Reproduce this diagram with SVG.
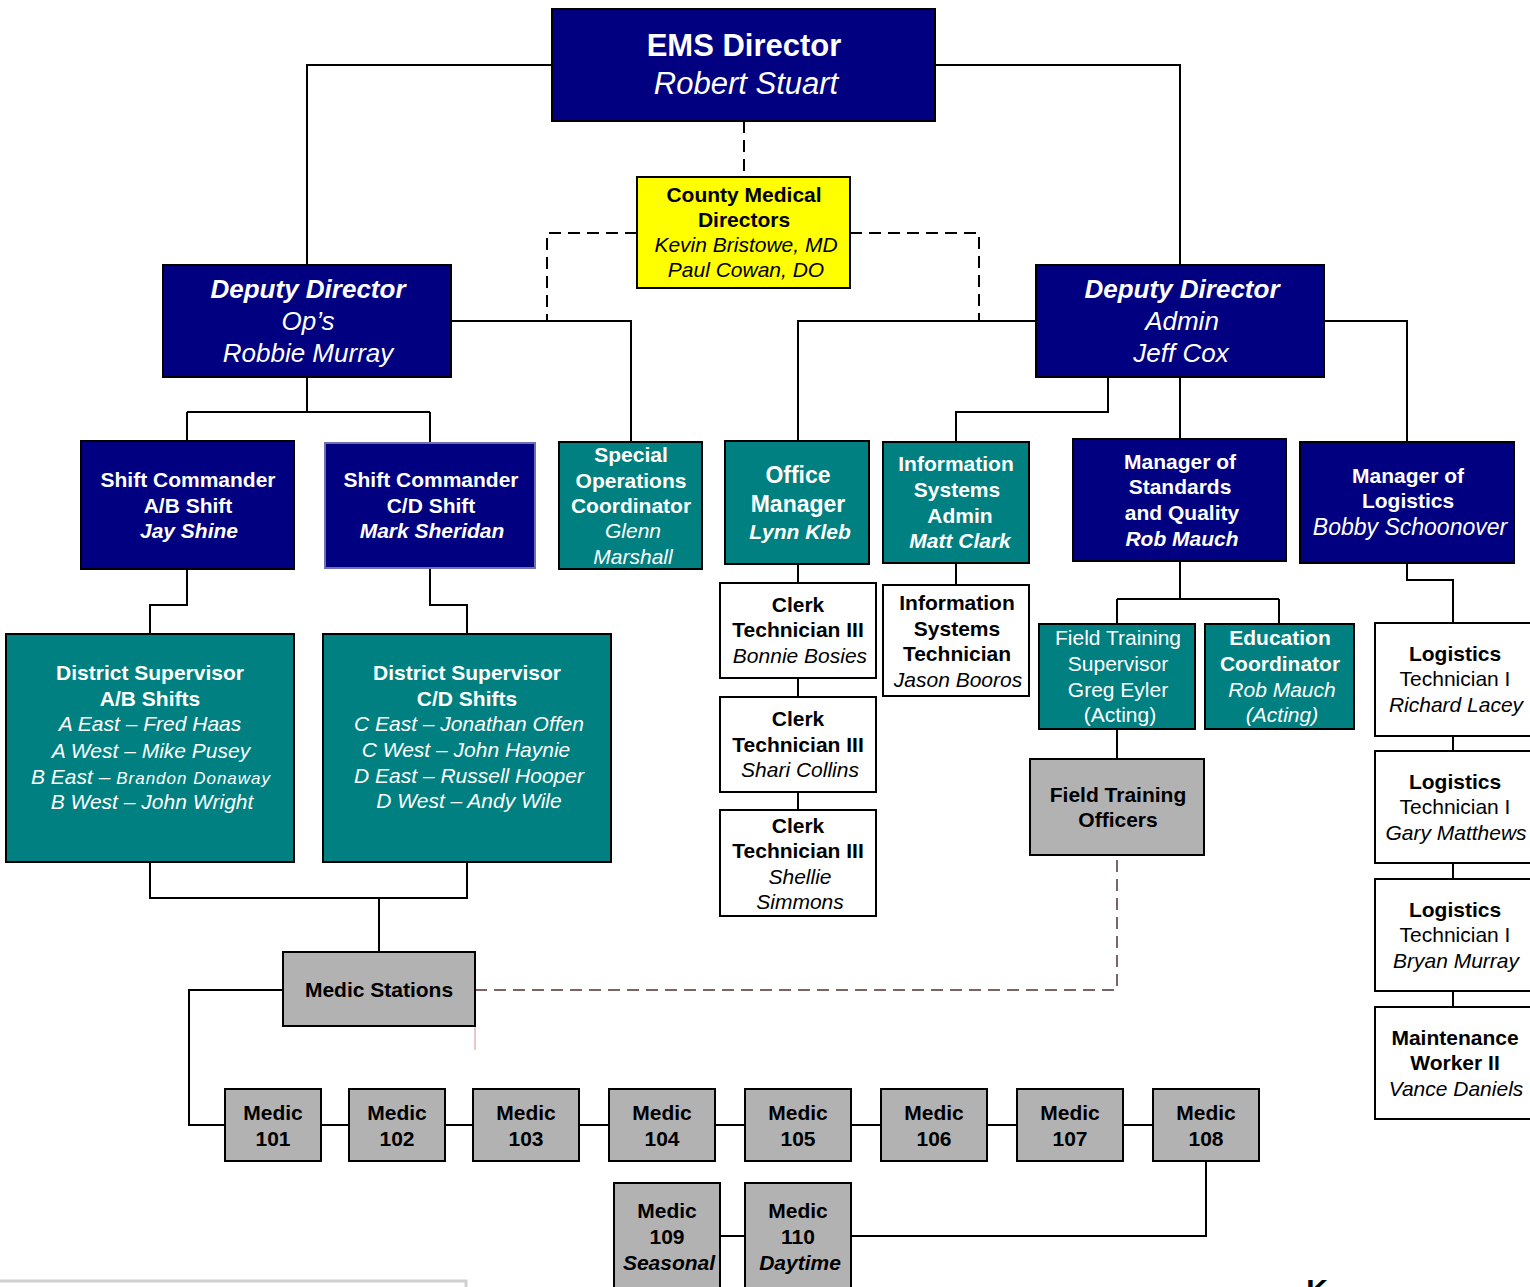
<svg xmlns="http://www.w3.org/2000/svg" width="1530" height="1287" viewBox="0 0 1530 1287">
<style>
.bx{stroke:#000;stroke-width:2}
.navy{fill:#000080}.teal{fill:#008080}.gray{fill:#b2b2b2}.wh{fill:#fff}.yel{fill:#ffff00}
text{font-family:"Liberation Sans",Arial,sans-serif;text-anchor:middle;font-size:21px}
.w{fill:#fff}.k{fill:#000}.b{font-weight:bold}.i{font-style:italic}
.ln{fill:none;stroke:#000;stroke-width:2}
.dash{fill:none;stroke:#000;stroke-width:2;stroke-dasharray:12 7}
.dash2{fill:none;stroke:#7a6464;stroke-width:2;stroke-dasharray:12 7}
</style>
<rect width="1530" height="1287" fill="#fff"/>
<g id="connectors">
<path class="ln" d="M552 65H307V265M935 65H1180V265"/>
<path class="dash" d="M744 121V177M637 233H547V321M850 233H979V321"/>
<path class="ln" d="M451 321H631V442M307 377V412M187 412H430M187 412V441M430 412V443"/>
<path class="ln" d="M187 569V605H150V634M430 568V605H467V634"/>
<path class="ln" d="M150 862V898H467V862M379 898V952"/>
<path class="ln" d="M283 990H189V1125H225"/>
<path class="ln" d="M321 1125H349M445 1125H473M579 1125H609M715 1125H745M851 1125H881M987 1125H1017M1123 1125H1153"/>
<path class="ln" d="M1206 1161V1236H851M720 1236H745"/>
<path class="dash2" d="M475 990H1117V855"/>
<path d="M475 1026V1050" stroke="#e8c8c8" stroke-width="2"/>
<path class="ln" d="M1036 321H798V441M1324 321H1407V442M1108 377V412H956V442M1180 377V439"/>
<path class="ln" d="M798 564V583M798 678V697M798 792V810M956 563V585"/>
<path class="ln" d="M1180 561V599M1117 599H1279M1117 599V624M1279 599V624M1117 729V759"/>
<path class="ln" d="M1407 563V580H1453V623M1453 736V751M1453 863V879M1453 991V1007"/>
</g>
<g id="ems-director"><rect class="bx navy" x="552" y="9" width="383" height="112"/>
<text class="w b" x="744" y="56" style="font-size:31px">EMS Director</text>
<text class="w i" x="746" y="94" style="font-size:31px">Robert Stuart</text></g>
<g id="county-medical"><rect class="bx yel" x="637" y="177" width="213" height="111"/>
<text class="k b" x="744" y="202">County Medical</text><text class="k b" x="744" y="227">Directors</text>
<text class="k i" x="746" y="252">Kevin Bristowe, MD</text><text class="k i" x="746" y="277">Paul Cowan, DO</text></g>
<g id="deputy-ops"><rect class="bx navy" x="163" y="265" width="288" height="112"/>
<text class="w b i" x="308" y="298" style="font-size:26px">Deputy Director</text>
<text class="w i" x="308" y="330" style="font-size:26px">Op’s</text>
<text class="w i" x="308" y="362" style="font-size:26px">Robbie Murray</text></g>
<g id="deputy-admin"><rect class="bx navy" x="1036" y="265" width="288" height="112"/>
<text class="w b i" x="1182" y="298" style="font-size:26px">Deputy Director</text>
<text class="w i" x="1182" y="330" style="font-size:26px">Admin</text>
<text class="w i" x="1181" y="362" style="font-size:26px">Jeff Cox</text></g>
<g id="shift-ab"><rect class="bx navy" x="81" y="441" width="213" height="128"/>
<text class="w b" x="188" y="487">Shift Commander</text><text class="w b" x="188" y="513">A/B Shift</text>
<text class="w b i" x="189" y="538">Jay Shine</text></g>
<g id="shift-cd"><rect class="navy" x="325" y="443" width="210" height="125" stroke="#7070b0" stroke-width="2"/>
<text class="w b" x="431" y="487">Shift Commander</text><text class="w b" x="431" y="513">C/D Shift</text>
<text class="w b i" x="432" y="538">Mark Sheridan</text></g>
<g id="special-ops"><rect class="bx teal" x="559" y="442" width="143" height="127"/>
<text class="w b" x="631" y="462">Special</text><text class="w b" x="631" y="488">Operations</text>
<text class="w b" x="631" y="513">Coordinator</text><text class="w i" x="633" y="538">Glenn</text>
<text class="w i" x="633" y="564">Marshall</text></g>
<g id="district-ab"><rect class="bx teal" x="6" y="634" width="288" height="228"/>
<text class="w b" x="150" y="680">District Supervisor</text><text class="w b" x="150" y="706">A/B Shifts</text>
<text class="w i" x="150" y="731">A East – Fred Haas</text><text class="w i" x="151" y="758">A West – Mike Pusey</text>
<text class="w i" x="151" y="784">B East – <tspan style="font-size:17px;letter-spacing:1px">Brandon Donaway</tspan></text>
<text class="w i" x="152" y="809">B West – John Wright</text></g>
<g id="district-cd"><rect class="bx teal" x="323" y="634" width="288" height="228"/>
<text class="w b" x="467" y="680">District Supervisor</text><text class="w b" x="467" y="706">C/D Shifts</text>
<text class="w i" x="469" y="731">C East – Jonathan Offen</text><text class="w i" x="466" y="757">C West – John Haynie</text>
<text class="w i" x="469" y="783">D East – Russell Hooper</text><text class="w i" x="469" y="808">D West – Andy Wile</text></g>
<g id="medic-stations"><rect class="bx gray" x="283" y="952" width="192" height="74"/>
<text class="k b" x="379" y="997">Medic Stations</text></g>
<g id="medic-101"><rect class="bx gray" x="225" y="1089" width="96" height="72"/><text class="k b" x="273" y="1120">Medic</text><text class="k b" x="273" y="1146">101</text></g>
<g id="medic-102"><rect class="bx gray" x="349" y="1089" width="96" height="72"/><text class="k b" x="397" y="1120">Medic</text><text class="k b" x="397" y="1146">102</text></g>
<g id="medic-103"><rect class="bx gray" x="473" y="1089" width="106" height="72"/><text class="k b" x="526" y="1120">Medic</text><text class="k b" x="526" y="1146">103</text></g>
<g id="medic-104"><rect class="bx gray" x="609" y="1089" width="106" height="72"/><text class="k b" x="662" y="1120">Medic</text><text class="k b" x="662" y="1146">104</text></g>
<g id="medic-105"><rect class="bx gray" x="745" y="1089" width="106" height="72"/><text class="k b" x="798" y="1120">Medic</text><text class="k b" x="798" y="1146">105</text></g>
<g id="medic-106"><rect class="bx gray" x="881" y="1089" width="106" height="72"/><text class="k b" x="934" y="1120">Medic</text><text class="k b" x="934" y="1146">106</text></g>
<g id="medic-107"><rect class="bx gray" x="1017" y="1089" width="106" height="72"/><text class="k b" x="1070" y="1120">Medic</text><text class="k b" x="1070" y="1146">107</text></g>
<g id="medic-108"><rect class="bx gray" x="1153" y="1089" width="106" height="72"/><text class="k b" x="1206" y="1120">Medic</text><text class="k b" x="1206" y="1146">108</text></g>
<g id="medic-109"><rect class="bx gray" x="614" y="1183" width="106" height="120"/><text class="k b" x="667" y="1218">Medic</text><text class="k b" x="667" y="1244">109</text><text class="k b i" x="669" y="1270">Seasonal</text></g>
<g id="medic-110"><rect class="bx gray" x="745" y="1183" width="106" height="120"/><text class="k b" x="798" y="1218">Medic</text><text class="k b" x="798" y="1244">110</text><text class="k b i" x="800" y="1270">Daytime</text></g>
<g id="office-manager"><rect class="bx teal" x="725" y="441" width="144" height="123"/>
<text class="w b" x="798" y="483" style="font-size:23px">Office</text><text class="w b" x="798" y="512" style="font-size:23px">Manager</text>
<text class="w b i" x="800" y="539">Lynn Kleb</text></g>
<g id="info-sys-admin"><rect class="bx teal" x="883" y="442" width="146" height="121"/>
<text class="w b" x="956" y="471">Information</text><text class="w b" x="957" y="497">Systems</text>
<text class="w b" x="960" y="523">Admin</text><text class="w b i" x="960" y="548">Matt Clark</text></g>
<g id="mgr-standards"><rect class="bx navy" x="1073" y="439" width="213" height="122"/>
<text class="w b" x="1180" y="469">Manager of</text><text class="w b" x="1180" y="494">Standards</text>
<text class="w b" x="1182" y="520">and Quality</text><text class="w b i" x="1182" y="546">Rob Mauch</text></g>
<g id="mgr-logistics"><rect class="bx navy" x="1300" y="442" width="214" height="121"/>
<text class="w b" x="1408" y="483">Manager of</text><text class="w b" x="1408" y="508">Logistics</text>
<text class="w i" x="1410" y="535" style="font-size:23px">Bobby Schoonover</text></g>
<g id="clerk-1"><rect class="bx wh" x="720" y="583" width="156" height="95"/>
<text class="k b" x="798" y="612">Clerk</text><text class="k b" x="798" y="637">Technician III</text>
<text class="k i" x="800" y="663">Bonnie Bosies</text></g>
<g id="clerk-2"><rect class="bx wh" x="720" y="697" width="156" height="95"/>
<text class="k b" x="798" y="726">Clerk</text><text class="k b" x="798" y="752">Technician III</text>
<text class="k i" x="800" y="777">Shari Collins</text></g>
<g id="clerk-3"><rect class="bx wh" x="720" y="810" width="156" height="106"/>
<text class="k b" x="798" y="833">Clerk</text><text class="k b" x="798" y="858">Technician III</text>
<text class="k i" x="800" y="884">Shellie</text><text class="k i" x="800" y="909">Simmons</text></g>
<g id="info-sys-tech"><rect class="bx wh" x="883" y="585" width="146" height="111"/>
<text class="k b" x="957" y="610">Information</text><text class="k b" x="957" y="636">Systems</text>
<text class="k b" x="957" y="661">Technician</text><text class="k i" x="958" y="687">Jason Booros</text></g>
<g id="fts"><rect class="bx teal" x="1039" y="624" width="156" height="105"/>
<text class="w" x="1118" y="645">Field Training</text><text class="w" x="1118" y="671">Supervisor</text>
<text class="w" x="1118" y="697">Greg Eyler</text><text class="w" x="1120" y="722">(Acting)</text></g>
<g id="edu-coord"><rect class="bx teal" x="1205" y="624" width="149" height="105"/>
<text class="w b" x="1280" y="645">Education</text><text class="w b" x="1280" y="671">Coordinator</text>
<text class="w i" x="1282" y="697">Rob Mauch</text><text class="w i" x="1282" y="722">(Acting)</text></g>
<g id="fto"><rect class="bx gray" x="1030" y="759" width="174" height="96"/>
<text class="k b" x="1118" y="802">Field Training</text><text class="k b" x="1118" y="827">Officers</text></g>
<g id="log-1"><rect class="bx wh" x="1375" y="623" width="170" height="113"/>
<text class="k b" x="1455" y="661">Logistics</text><text class="k" x="1455" y="686">Technician I</text>
<text class="k i" x="1456" y="712">Richard Lacey</text></g>
<g id="log-2"><rect class="bx wh" x="1375" y="751" width="170" height="112"/>
<text class="k b" x="1455" y="789">Logistics</text><text class="k" x="1455" y="814">Technician I</text>
<text class="k i" x="1456" y="840">Gary Matthews</text></g>
<g id="log-3"><rect class="bx wh" x="1375" y="879" width="170" height="112"/>
<text class="k b" x="1455" y="917">Logistics</text><text class="k" x="1455" y="942">Technician I</text>
<text class="k i" x="1456" y="968">Bryan Murray</text></g>
<g id="maint"><rect class="bx wh" x="1375" y="1007" width="170" height="112"/>
<text class="k b" x="1455" y="1045">Maintenance</text><text class="k b" x="1455" y="1070">Worker II</text>
<text class="k i" x="1456" y="1096">Vance Daniels</text></g>
<g id="fragments">
<rect x="-3" y="1281" width="469" height="40" fill="#fff" stroke="#d0d0d0" stroke-width="3"/>
<text class="k b" x="1317" y="1300" style="font-size:30px">K</text>
</g>
</svg>
